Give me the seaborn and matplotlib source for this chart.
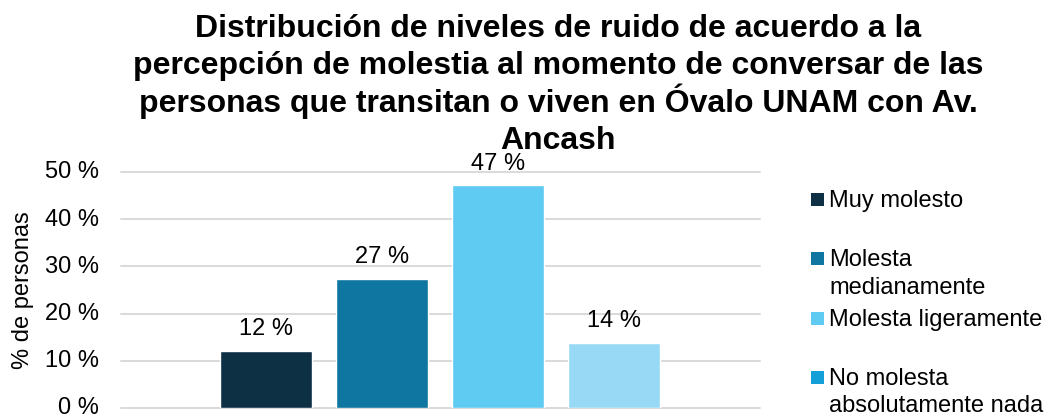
import matplotlib
matplotlib.use("Agg")
import matplotlib.pyplot as plt
import matplotlib.transforms as mtransforms
import seaborn as sns
import pandas as pd
from matplotlib.patches import Rectangle

# ---- data ----
categories = ["Muy molesto", "Molesta medianamente", "Molesta ligeramente",
              "No molesta absolutamente nada"]
values = [12.1, 27.4, 47.2, 13.8]
value_labels = ["12 %", "27 %", "47 %", "14 %"]
bar_colors = ["#0d3044", "#0e76a0", "#5fcaf2", "#98daf6"]
legend_colors = ["#0d3044", "#0e76a0", "#5fcaf2", "#149fd8"]
legend_lines = [["Muy molesto"], ["Molesta", "medianamente"],
                ["Molesta ligeramente"], ["No molesta", "absolutamente nada"]]
yticks = [0, 10, 20, 30, 40, 50]
ytick_labels = ["0 %", "10 %", "20 %", "30 %", "40 %", "50 %"]
title_lines = ["Distribución de niveles de ruido de acuerdo a la",
               "percepción de molestia al momento de conversar de las",
               "personas que transitan o viven en Óvalo UNAM con Av.",
               "Ancash"]

sns.set_theme(style="white")
plt.rcParams["font.family"] = ["Liberation Sans", "DejaVu Sans"]

FS = 17
W, H = 1048, 416
fig = plt.figure(figsize=(W / 100, H / 100), dpi=100)
ax = fig.add_axes([121 / W, 1 - 408 / H, (760 - 121) / W, (408 - 172) / H])

df = pd.DataFrame({"cat": categories, "val": values})
sns.barplot(data=df, x="cat", y="val", hue="cat", palette=bar_colors,
            order=categories, hue_order=categories, width=0.79,
            legend=False, ax=ax, saturation=1)

ax.set_xlim(-1.25, 4.26)
ax.set_ylim(0, 50)
ax.set_xticks([])
ax.set_xlabel("")
ax.set_yticks(yticks)
ax.set_yticklabels(ytick_labels)
ax.tick_params(axis="y", length=0, pad=16, labelsize=FS, labelcolor="black")
ax.set_ylabel("% de personas", fontsize=FS, color="black", labelpad=8)

# nudge tick labels up slightly so the lowest one stays inside the figure
shift = mtransforms.ScaledTranslation(0, 2 / 100, fig.dpi_scale_trans)
for lbl in ax.get_yticklabels():
    lbl.set_transform(lbl.get_transform() + shift)

for s in ax.spines.values():
    s.set_visible(False)
ax.yaxis.grid(True, color="#d9d9d9", linewidth=1.4)
ax.set_axisbelow(True)
for gl in ax.get_ygridlines():
    gl.set_clip_on(False)

for i, cont in enumerate(ax.containers):
    ax.bar_label(cont, labels=[value_labels[i]], padding=7.5, fontsize=FS,
                 color="black", clip_on=False)

# title, one text per line (centred)
for k, line in enumerate(title_lines):
    fig.text(558 / W, 1 - (37 + 37.4 * k) / H, line, ha="center",
             va="baseline", fontsize=23, fontweight="bold", color="black")

# legend (Excel-like layout)
base_first = [207, 266, 326, 385]
for lines, col, b in zip(legend_lines, legend_colors, base_first):
    fig.patches.append(Rectangle((811 / W, 1 - (b - 1) / H), 13 / W, 13 / H,
                                 transform=fig.transFigure, facecolor=col,
                                 edgecolor="none"))
    for k, line in enumerate(lines):
        fig.text(829 / W, 1 - (b + 27.5 * k) / H, line, ha="left",
                 va="baseline", fontsize=FS, color="black")

fig.savefig("out.png", dpi=100)
